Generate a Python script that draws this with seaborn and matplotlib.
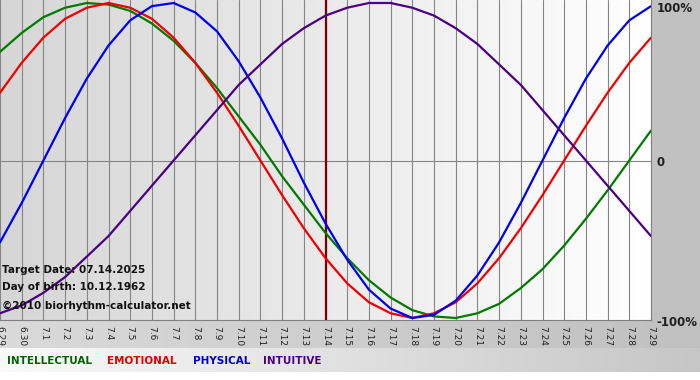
import numpy as np
import pandas as pd
import matplotlib
matplotlib.use("Agg")
import matplotlib.pyplot as plt
import matplotlib.transforms as mtrans
from matplotlib.colors import LinearSegmentedColormap
import seaborn as sns

# days shown on the x axis (month.day)
days = ["6.29", "6.30"] + [f"7.{d}" for d in range(1, 30)]
target_day = "7.14"

# values, -1 .. 1
physical = [-0.52, -0.27, 0.00, 0.27, 0.52, 0.73, 0.89, 0.98, 1.00, 0.94, 0.82,
            0.63, 0.40, 0.14, -0.14, -0.40, -0.63, -0.82, -0.94, -1.00, -0.98,
            -0.89, -0.73, -0.52, -0.27, 0.00, 0.27, 0.52, 0.73, 0.89, 0.98]
emotional = [0.43, 0.62, 0.78, 0.90, 0.97, 1.00, 0.97, 0.90, 0.78, 0.62, 0.43,
             0.22, 0.00, -0.22, -0.43, -0.62, -0.78, -0.90, -0.97, -1.00, -0.97,
             -0.90, -0.78, -0.62, -0.43, -0.22, 0.00, 0.22, 0.43, 0.62, 0.78]
intellectual = [0.69, 0.81, 0.91, 0.97, 1.00, 0.99, 0.95, 0.87, 0.76, 0.62, 0.46,
                0.28, 0.10, -0.10, -0.28, -0.46, -0.62, -0.76, -0.87, -0.95, -0.99,
                -1.00, -0.97, -0.91, -0.81, -0.69, -0.54, -0.37, -0.19, 0.00, 0.19]
intuitive = [-0.97, -0.92, -0.84, -0.74, -0.61, -0.48, -0.32, -0.16, 0.00, 0.16, 0.32,
             0.48, 0.61, 0.74, 0.84, 0.92, 0.97, 1.00, 1.00, 0.97, 0.92,
             0.84, 0.74, 0.61, 0.48, 0.32, 0.16, 0.00, -0.16, -0.32, -0.48]

series_names = ["INTELLECTUAL", "EMOTIONAL", "PHYSICAL", "INTUITIVE"]
line_colors = {"INTELLECTUAL": "#007a00", "EMOTIONAL": "#f00000",
               "PHYSICAL": "#0000f0", "INTUITIVE": "#4b0082"}
label_colors = {"INTELLECTUAL": "#006400", "EMOTIONAL": "#e00000",
                "PHYSICAL": "#0000c8", "INTUITIVE": "#4b0082"}

idx = np.arange(len(days))
df = pd.concat([
    pd.DataFrame({"day": idx, "value": vals, "rhythm": name})
    for name, vals in zip(series_names, [intellectual, emotional, physical, intuitive])
])

sns.set_style("white")
plt.rcParams["font.family"] = ["DejaVu Sans"]

W, H = 700, 380
fig = plt.figure(figsize=(W / 100, H / 100), dpi=100, facecolor="#c4c4c4")

# background gradients
bg = fig.add_axes([0, 0, 1, 1], zorder=-10)
bg.imshow(np.linspace(0, 1, 256)[None, :], aspect="auto", extent=[0, 1, 0, 1],
          cmap=LinearSegmentedColormap.from_list("b", ["#dadada", "#c0c0c0"]))
bg.set_axis_off()
strip = fig.add_axes([0, 8 / H, 1, 24 / H], zorder=-9)
strip.imshow(np.linspace(0, 1, 256)[None, :], aspect="auto", extent=[0, 1, 0, 1],
             cmap=LinearSegmentedColormap.from_list("s", ["#fafafa", "#c6c6c6"]))
strip.set_axis_off()
foot = fig.add_axes([0, 0, 1, 8 / H], zorder=-9)
foot.set_axis_off()
foot.add_patch(plt.Rectangle((0, 0), 1, 1, color="white", transform=foot.transAxes))

# plot area: x 0..651 px, y 0..320 px from top
ax = fig.add_axes([0, 60 / H, 651 / W, 320 / H])
ytop, ybot = 1 + 3 / 157.5, -1 - 2 / 157.5
ax.imshow(np.linspace(0, 1, 256)[None, :], aspect="auto",
          extent=[0, len(days) - 1, ybot, ytop], zorder=0,
          cmap=LinearSegmentedColormap.from_list("p", ["#d6d6d6", "#ffffff"]))

for i in idx:
    ax.axvline(i, color="#858585", lw=0.8, zorder=1)
ax.axhline(0, color="#858585", lw=0.8, zorder=1)
ax.axvline(days.index(target_day), color="#7a0000", lw=1.6, zorder=2)

sns.lineplot(data=df, x="day", y="value", hue="rhythm", palette=line_colors,
             lw=1.6, legend=False, ax=ax, zorder=3)

ax.set_xlim(0, len(days) - 1)
ax.set_ylim(ybot, ytop)
ax.set_xticks(idx)
ax.set_xticklabels(days, rotation=-90, fontsize=6.5, color="#202020")
ax.tick_params(axis="x", length=3, width=0.8, color="#808080", pad=1)
ax.yaxis.tick_right()
ax.set_yticks([1, 0, -1])
ax.set_yticklabels(["100%", "0", "-100%"], fontsize=8.5, fontweight="bold",
                   color="#202020")
ax.tick_params(axis="y", length=0, pad=4)
for lbl, dy in zip(ax.get_yticklabels(), [-4, 0, -3]):
    lbl.set_transform(lbl.get_transform() +
                      mtrans.ScaledTranslation(0, dy / 100, fig.dpi_scale_trans))
ax.set_xlabel("")
ax.set_ylabel("")
for s in ["top", "left"]:
    ax.spines[s].set_visible(False)
ax.spines["bottom"].set_color("#808080")
ax.spines["right"].set_color("#808080")

info = [("Target Date: 07.14.2025", 270), ("Day of birth: 10.12.1962", 287),
        ("\u00a92010 biorhythm-calculator.net", 306)]
for txt, y in info:
    fig.text(2 / W, 1 - y / H, txt, fontsize=7.5, fontweight="bold",
             color="#111111", va="center", ha="left")

legend_x = [7, 107, 193, 263]
for name, x in zip(series_names, legend_x):
    fig.text(x / W, 1 - 361 / H, name, fontsize=7.5, fontweight="bold",
             color=label_colors[name], va="center", ha="left")

fig.savefig("out.png", dpi=100, facecolor=fig.get_facecolor())
